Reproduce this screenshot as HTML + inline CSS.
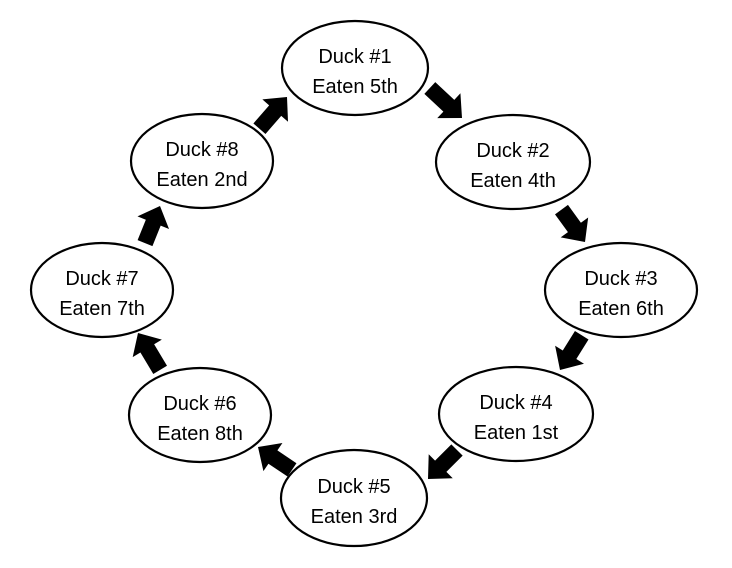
<!DOCTYPE html>
<html><head><meta charset="utf-8"><style>
html,body{margin:0;padding:0;background:#fff;}
svg{display:block;}
text{font-family:"Liberation Sans",sans-serif;font-size:20px;fill:#000;text-anchor:middle;}
</style></head><body>
<svg width="732" height="568" viewBox="0 0 732 568" xmlns="http://www.w3.org/2000/svg">
<g fill="#fff" stroke="#000" stroke-width="2.2">
<ellipse cx="355" cy="68" rx="73" ry="47"/>
<ellipse cx="513" cy="162" rx="77" ry="47"/>
<ellipse cx="621" cy="290" rx="76" ry="47"/>
<ellipse cx="516" cy="414" rx="77" ry="47"/>
<ellipse cx="354" cy="498" rx="73" ry="48"/>
<ellipse cx="200" cy="415" rx="71" ry="47"/>
<ellipse cx="102" cy="290" rx="71" ry="47"/>
<ellipse cx="202" cy="161" rx="71" ry="47"/>
</g>
<g fill="#000">
<g transform="translate(462,118) rotate(43)"><polygon points="-44,-8 -18,-8 -18,-17 0,0 -18,17 -18,8 -44,8"/></g>
<g transform="translate(585,242) rotate(54)"><polygon points="-40,-8 -18,-8 -18,-17 0,0 -18,17 -18,8 -40,8"/></g>
<g transform="translate(560,370) rotate(122)"><polygon points="-41,-8 -18,-8 -18,-17 0,0 -18,17 -18,8 -41,8"/></g>
<g transform="translate(428,479) rotate(135)"><polygon points="-41,-8 -18,-8 -18,-17 0,0 -18,17 -18,8 -41,8"/></g>
<g transform="translate(258,447) rotate(214)"><polygon points="-41,-8 -18,-8 -18,-17 0,0 -18,17 -18,8 -41,8"/></g>
<g transform="translate(138,333) rotate(239)"><polygon points="-43,-8 -18,-8 -18,-17 0,0 -18,17 -18,8 -43,8"/></g>
<g transform="translate(160,206) rotate(292)"><polygon points="-40,-8 -18,-8 -18,-17 0,0 -18,17 -18,8 -40,8"/></g>
<g transform="translate(287,97) rotate(311)"><polygon points="-42,-8 -18,-8 -18,-17 0,0 -18,17 -18,8 -42,8"/></g>
</g>
<text x="355" y="63">Duck #1</text><text x="355" y="93">Eaten 5th</text>
<text x="513" y="157">Duck #2</text><text x="513" y="187">Eaten 4th</text>
<text x="621" y="285">Duck #3</text><text x="621" y="315">Eaten 6th</text>
<text x="516" y="409">Duck #4</text><text x="516" y="439">Eaten 1st</text>
<text x="354" y="493">Duck #5</text><text x="354" y="523">Eaten 3rd</text>
<text x="200" y="410">Duck #6</text><text x="200" y="440">Eaten 8th</text>
<text x="102" y="285">Duck #7</text><text x="102" y="315">Eaten 7th</text>
<text x="202" y="156">Duck #8</text><text x="202" y="186">Eaten 2nd</text>
</svg>
</body></html>
